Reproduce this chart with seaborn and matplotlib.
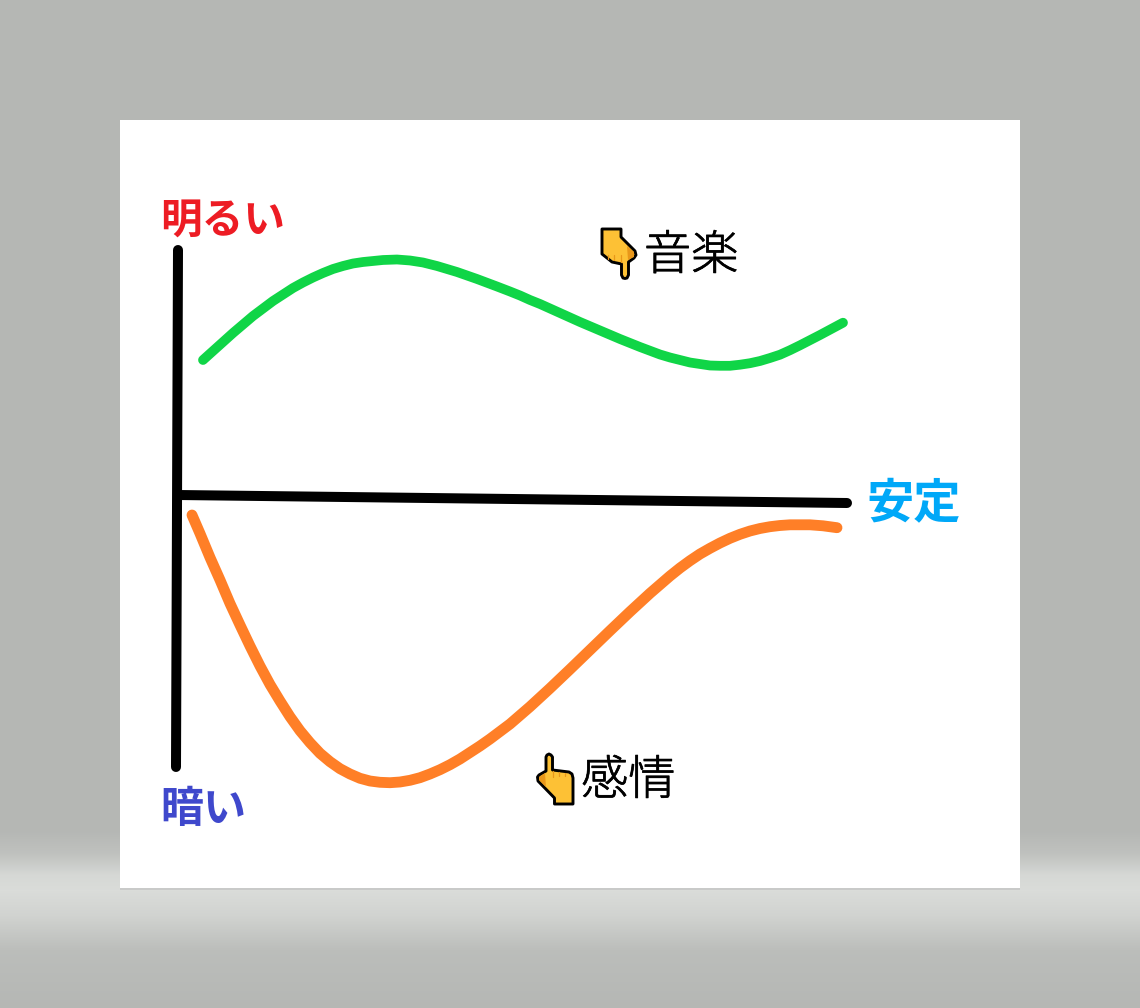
import matplotlib
matplotlib.use("Agg")
import matplotlib.pyplot as plt
import matplotlib.patches as mpatches
import matplotlib.patheffects as pe
import numpy as np
import pandas as pd
import seaborn as sns

sns.set_theme(style="white")
plt.rcParams['font.family'] = ['Noto Sans CJK JP', 'DejaVu Sans']

# curves (pixels)
music_x = [203, 213, 223, 233, 243, 253, 263, 273, 283, 293, 303, 313, 323, 333, 343, 353, 363, 373, 383, 397, 410, 423, 437, 457, 477, 497, 510, 520, 530,
           540, 560, 580, 600, 620, 640, 660, 670, 680, 690, 700, 710, 720, 730, 740, 750, 760, 770, 780, 790, 800, 820, 843]
music_y = [360, 351, 342, 333, 324.5, 316, 308.5, 301, 294.5, 288, 282.5, 277.5, 273, 269, 266, 263.5, 262, 261, 260, 259.5, 260.5, 262.5, 266, 272, 279, 286.5, 291.5, 295.5, 300,
           304, 313, 322, 330.5, 339, 347, 354.5, 357.5, 360, 362.5, 364, 365.5, 365.8, 365.8, 364.7, 363.2, 361, 358, 354.7, 350.2, 345.3, 335, 322.7]
emotion_x = [192, 200, 210, 220, 230, 240, 250, 260, 270, 280, 290, 300, 310, 320, 330, 340, 350, 360, 370, 380, 390, 400, 410, 420, 430, 440, 450, 460, 470, 480,
             490, 510, 530, 550, 570, 590, 610, 630, 650, 670, 680, 690, 700, 710, 720, 730, 740, 750, 760, 770, 780, 790, 810, 823, 837]
emotion_y = [515, 533.5, 557.5, 580, 603.5, 625, 646, 666, 684.5, 701, 716.7, 730.7, 742.7, 753.3, 761.7, 768.7, 774, 778.3, 781, 782.3, 782.7, 782, 780.3, 777.7, 774, 769.7, 764.7, 759, 752.5, 746,
             739, 724, 706.7, 688.3, 669.3, 650, 630.7, 611.7, 593.3, 576, 568, 560.7, 554, 548.3, 543, 538.3, 534.3, 531, 528.5, 526.7, 525.5, 524.8, 524.8, 525.8, 527.7]
vaxis_x = [178, 176]
vaxis_y = [250, 767]
haxis_x = [178, 847]
haxis_y = [495, 503]

# background gradient stops
bg_pos = [0, 830, 853, 875, 890, 915, 950, 1008]
bg_val = [0.71, 0.71, 0.75, 0.84, 0.855, 0.82, 0.735, 0.71]

# pointing hands
hand_down = [(602, 229), (621, 229), (621, 237), (635, 251), (636, 255), (634, 258), (628.5, 262), (628.5, 275), (627, 278), (625, 278.5),
             (623, 278), (621.5, 275), (621.5, 264), (612, 262), (602, 254)]
hand_down_shade = [(627, 246), (634, 252), (634, 257), (628, 260)]
hand_down_ticks = [[(608, 255), (608, 259)], [(614, 255), (614, 260)], [(621, 255), (621, 262)]]
hand_up = [(546, 757), (547, 755), (549, 754), (551, 755), (552.5, 757), (552.5, 770), (569, 772), (572, 774), (573, 778), (573, 804),
           (554.5, 804), (554.5, 798), (538, 781), (537.5, 777), (539, 775), (546, 771)]
hand_up_shade = [(545, 773), (539, 777), (539, 780), (546, 787)]
hand_up_ticks = [[(553, 771), (553, 777)], [(559, 772), (559, 776)], [(565, 773), (565, 776)]]

fig = plt.figure(figsize=(11.4, 10.08), dpi=100)
ax = fig.add_axes([0, 0, 1, 1])

ys = np.arange(1008)
grad = np.interp(ys, bg_pos, bg_val)
img = np.stack([grad, grad + 0.008, grad - 0.003], axis=1).reshape(-1, 1, 3)
ax.imshow(img, aspect='auto', extent=(0, 1140, 1008, 0), zorder=0)
ax.add_patch(mpatches.Rectangle((120, 888), 900, 2, fc='#c9cac9', ec='none', zorder=1))
ax.add_patch(mpatches.Rectangle((120, 120), 900, 768, fc='white', ec='none', zorder=1))


def draw(x, y, color, lw):
    df = pd.DataFrame({'x': x, 'y': y})
    sns.lineplot(data=df, x='x', y='y', sort=False, estimator=None, color=color, linewidth=lw,
                 solid_capstyle='round', solid_joinstyle='round', ax=ax, zorder=3)


draw(vaxis_x, vaxis_y, 'black', 7.2)
draw(haxis_x, haxis_y, 'black', 7.2)
draw(music_x, music_y, '#10d547', 7.0)
draw(emotion_x, emotion_y, '#ff7f27', 7.8)

for pts, shade, ticks in [(hand_down, hand_down_shade, hand_down_ticks), (hand_up, hand_up_shade, hand_up_ticks)]:
    ax.add_patch(mpatches.Polygon(pts, closed=True, fc='#fdc135', ec='black', lw=2.1, joinstyle='round', zorder=4))
    ax.add_patch(mpatches.Polygon(shade, closed=True, fc='#e8971a', ec='none', zorder=5))
    for seg in ticks:
        ax.plot(*zip(*seg), color='#e8971a', lw=0.9, zorder=5)

thicker = [pe.withStroke(linewidth=0.5, foreground='black')]
ax.text(160, 221, '明るい', color='#ed1c24', fontsize=30, fontweight='bold', va='center', ha='left', zorder=6)
ax.text(160, 809, '暗い', color='#3f48cc', fontsize=31, fontweight='bold', va='center', ha='left', zorder=6)
ax.text(866, 504, '安定', color='#00a8f8', fontsize=34, fontweight='bold', va='center', ha='left', zorder=6)
ax.text(644, 256, '音楽', color='black', fontsize=34, fontweight=300, va='center', ha='left', zorder=6, path_effects=thicker)
ax.text(581, 781, '感情', color='black', fontsize=34, fontweight=300, va='center', ha='left', zorder=6, path_effects=thicker)

ax.set_xlim(0, 1140)
ax.set_ylim(1008, 0)
ax.set_axis_off()

fig.savefig('out.png', dpi=100)
